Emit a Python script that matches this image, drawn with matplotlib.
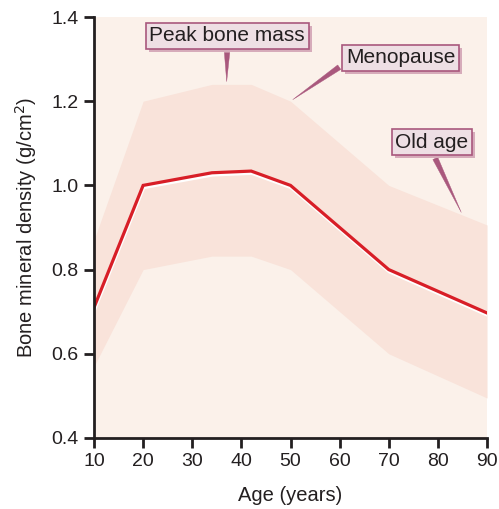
import matplotlib.pyplot as plt
import matplotlib.patheffects as pe

plt.rcParams['font.family'] = ['Liberation Sans', 'DejaVu Sans']

# bone mineral density across the lifespan
age = [10, 20, 34, 42, 50, 70, 90]
bmd_mean = [0.71, 1.00, 1.03, 1.034, 1.00, 0.80, 0.697]
bmd_upper = [0.87, 1.20, 1.24, 1.24, 1.20, 1.00, 0.906]
bmd_lower = [0.57, 0.80, 0.832, 0.832, 0.80, 0.60, 0.495]

# callouts: label, point on the band, text position
callout_labels = ['Peak bone mass', 'Menopause', 'Old age']
callout_points = [(37, 1.24), (50, 1.2), (85, 0.93)]
callout_text_pos = [(37.1, 1.355), (72.4, 1.303), (78.8, 1.103)]
callout_relpos = [(0.5, 0.0), (0.0, 0.25), (0.5, 0.0)]

bg_color = '#fbf1ea'
band_color = '#f9e3da'
line_color = '#d81e27'
box_face = '#eedfe4'
box_edge = '#a9587d'
box_shadow = '#d6abba'

fig = plt.figure(figsize=(4.99, 5.09), dpi=100)
ax = fig.add_axes([0.1884, 0.1395, 0.7876, 0.8271])
ax.set_facecolor(bg_color)

ax.fill_between(age, bmd_lower, bmd_upper, color=band_color, lw=0)
ax.plot(age, bmd_mean, color=line_color, lw=2.3, solid_joinstyle='miter',
        path_effects=[pe.SimpleLineShadow(offset=(0.4, -1.6), shadow_color='white', alpha=1.0),
                      pe.Normal()])

for label, xy, xytext, rel in zip(callout_labels, callout_points, callout_text_pos, callout_relpos):
    t = ax.annotate(label, xy=xy, xytext=xytext, ha='center', va='center',
                    fontsize=15, color='#231f20',
                    bbox=dict(boxstyle='square,pad=0.18', fc=box_face, ec=box_edge, lw=1.2),
                    arrowprops=dict(arrowstyle='wedge,tail_width=0.26,shrink_factor=0.5',
                                    fc=box_edge, ec=box_edge, lw=0.3, relpos=rel,
                                    connectionstyle='arc3'))
    t.get_bbox_patch().set_path_effects([
        pe.SimplePatchShadow(offset=(2.2, -2.2), shadow_rgbFace=box_shadow, alpha=1.0),
        pe.Normal()])

ax.set_xlim(10, 90)
ax.set_ylim(0.4, 1.4)
ax.set_xticks(range(10, 91, 10))
ax.set_yticks([0.4, 0.6, 0.8, 1.0, 1.2, 1.4])
ax.set_yticklabels(['0.4', '0.6', '0.8', '1.0', '1.2', '1.4'])

for side in ['top', 'right']:
    ax.spines[side].set_visible(False)
for side in ['left', 'bottom']:
    ax.spines[side].set_linewidth(2)
    ax.spines[side].set_color('#231f20')
ax.tick_params(direction='out', length=7, width=2, color='#231f20',
               labelsize=14, labelcolor='#231f20', pad=4)

ax.set_xlabel('Age (years)', fontsize=14.5, color='#231f20', labelpad=11)
ax.set_ylabel('Bone mineral density (g/cm$^2$)', fontsize=14.5, color='#231f20', labelpad=9)

fig.savefig('out.png', dpi=100)
